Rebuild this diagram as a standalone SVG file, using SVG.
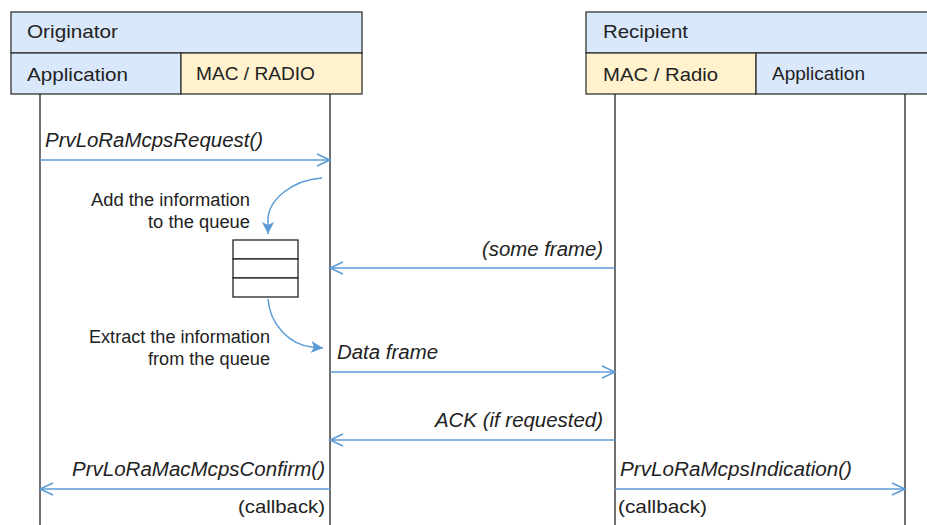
<svg xmlns="http://www.w3.org/2000/svg" width="927" height="525" viewBox="0 0 927 525">
<defs>
<style>
.hdr{fill:#dae8fc;stroke:#333;stroke-width:1.3}
.mac{fill:#fff2cc;stroke:#333;stroke-width:1.3}
.life{stroke:#222;stroke-width:1.3;fill:none}
.msg{stroke:#5b9bd5;stroke-width:1.5;fill:none}
.open{marker-end:url(#open)}
.filled{marker-end:url(#fill)}
text{font-family:"Liberation Sans",Arial,sans-serif;fill:#222}
.t18{font-size:19px}
.t17{font-size:17.5px}
.it{font-style:italic;font-size:20px}
.note{font-size:18px}
.q{fill:#fff;stroke:#222;stroke-width:1.3}
</style>
<marker id="open" markerWidth="16" markerHeight="14" refX="14" refY="7" orient="auto" markerUnits="userSpaceOnUse">
<path d="M1,1 L14,7 L1,13" fill="none" stroke="#5b9bd5" stroke-width="1.5"/>
</marker>
<marker id="fill" markerWidth="14" markerHeight="14" refX="12" refY="7" orient="auto" markerUnits="userSpaceOnUse">
<path d="M0,1 L12,7 L0,13 L3,7 Z" fill="#5b9bd5"/>
</marker>
</defs>

<g id="originator">
<rect class="hdr" x="11" y="12" width="351" height="41"/>
<text class="t18" x="27" y="38" textLength="91" lengthAdjust="spacingAndGlyphs">Originator</text>
<rect class="hdr" x="11" y="53" width="170" height="41"/>
<text class="t18" x="27" y="81" textLength="101" lengthAdjust="spacingAndGlyphs">Application</text>
<rect class="mac" x="181" y="53" width="181" height="41"/>
<text class="t17" x="196" y="80" textLength="119" lengthAdjust="spacingAndGlyphs">MAC / RADIO</text>
</g>

<g id="recipient">
<rect class="hdr" x="586" y="12" width="345" height="41"/>
<text class="t18" x="603" y="38" textLength="85" lengthAdjust="spacingAndGlyphs">Recipient</text>
<rect class="mac" x="586" y="53" width="170" height="41"/>
<text class="t18" x="603" y="81" textLength="115" lengthAdjust="spacingAndGlyphs">MAC / Radio</text>
<rect class="hdr" x="756" y="53" width="175" height="41"/>
<text class="t17" x="772" y="80" textLength="93" lengthAdjust="spacingAndGlyphs">Application</text>
</g>

<g id="lifelines">
<line class="life" x1="40" y1="94" x2="40" y2="525"/>
<line class="life" x1="330" y1="94" x2="330" y2="525"/>
<line class="life" x1="615" y1="94" x2="615" y2="525"/>
<line class="life" x1="905" y1="94" x2="905" y2="525"/>
</g>

<g id="queue">
<rect class="q" x="233" y="240" width="65" height="19"/>
<rect class="q" x="233" y="259" width="65" height="19"/>
<rect class="q" x="233" y="278" width="65" height="19"/>
</g>

<g id="connectors">
<line class="msg open" x1="40" y1="160" x2="330" y2="160"/>
<path class="msg filled" d="M322,178 C292,180 268,200 268,220 L268,234"/>
<line class="msg open" x1="615" y1="268" x2="330" y2="268"/>
<path class="msg filled" d="M268,299 C270,325 290,345 312,347 L323,348"/>
<line class="msg open" x1="330" y1="372" x2="615" y2="372"/>
<line class="msg open" x1="615" y1="440" x2="330" y2="440"/>
<line class="msg open" x1="330" y1="489" x2="40" y2="489"/>
<line class="msg open" x1="615" y1="489" x2="905" y2="489"/>
</g>

<g id="labels">
<text class="it" x="45" y="147" textLength="218" lengthAdjust="spacingAndGlyphs">PrvLoRaMcpsRequest()</text>
<text class="note" x="91" y="206" textLength="159" lengthAdjust="spacingAndGlyphs">Add the information</text>
<text class="note" x="148" y="228" textLength="102" lengthAdjust="spacingAndGlyphs">to the queue</text>
<text class="it" x="482" y="256" textLength="121" lengthAdjust="spacingAndGlyphs">(some frame)</text>
<text class="note" x="89" y="343" textLength="181" lengthAdjust="spacingAndGlyphs">Extract the information</text>
<text class="note" x="148" y="365" textLength="122" lengthAdjust="spacingAndGlyphs">from the queue</text>
<text class="it" x="337" y="359" textLength="101" lengthAdjust="spacingAndGlyphs">Data frame</text>
<text class="it" x="435" y="427" textLength="168" lengthAdjust="spacingAndGlyphs">ACK (if requested)</text>
<text class="it" x="72" y="476" textLength="253" lengthAdjust="spacingAndGlyphs">PrvLoRaMacMcpsConfirm()</text>
<text class="t18" x="238" y="513" textLength="87" lengthAdjust="spacingAndGlyphs">(callback)</text>
<text class="it" x="620" y="476" textLength="232" lengthAdjust="spacingAndGlyphs">PrvLoRaMcpsIndication()</text>
<text class="t18" x="618" y="513" textLength="89" lengthAdjust="spacingAndGlyphs">(callback)</text>
</g>
</svg>
